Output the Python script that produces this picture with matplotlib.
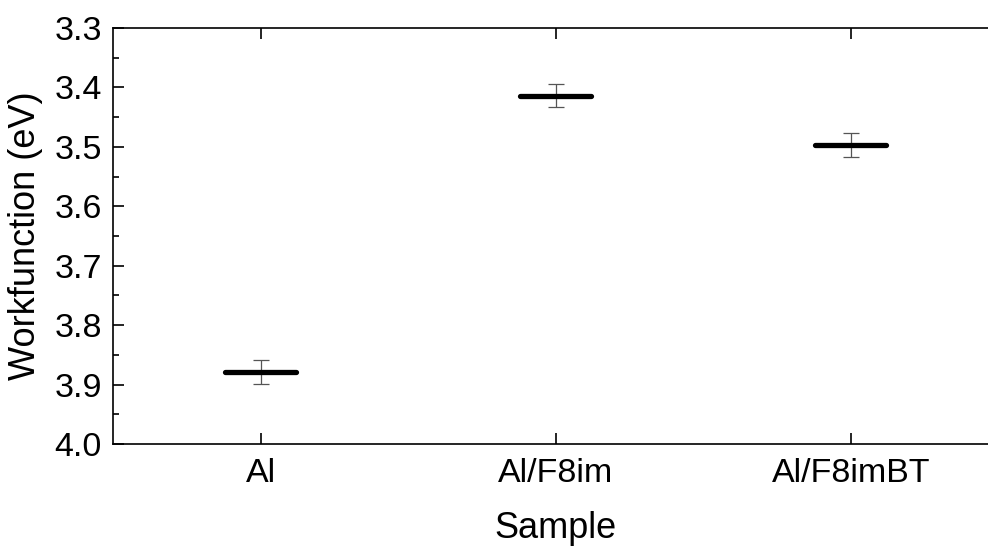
import matplotlib
matplotlib.use("Agg")
import matplotlib.pyplot as plt
import numpy as np

plt.rcParams["font.family"] = ["Liberation Sans", "DejaVu Sans"]

samples = ["Al", "Al/F8im", "Al/F8imBT"]
workfunction = [3.879, 3.414, 3.497]
errors = [0.020, 0.019, 0.020]

x = np.arange(1, len(samples) + 1)

fig = plt.figure(figsize=(9.88, 5.46), dpi=100)
ax = fig.add_axes([113 / 988, 1 - 444 / 546, 885.5 / 988, 416 / 546])

ax.errorbar(x, workfunction, yerr=errors, fmt="none", ecolor="#555555",
            elinewidth=0.9, capsize=5.5, capthick=0.9, zorder=2)
ax.hlines(workfunction, x - 0.12, x + 0.12, colors="black", linewidth=3.8,
          capstyle="round", zorder=3)

ax.set_xlim(0.5, 3.5)
ax.set_ylim(4.0, 3.3)
ax.set_xticks(x)
ax.set_xticklabels(samples)
ax.set_yticks(np.arange(3.3, 4.01, 0.1))
ax.set_yticks(np.arange(3.35, 4.0, 0.1), minor=True)
ax.yaxis.set_major_formatter(matplotlib.ticker.FormatStrFormatter("%.1f"))

ax.tick_params(axis="both", which="major", direction="in", length=8, width=1.2,
               labelsize=24.5, top=True, right=True)
ax.tick_params(axis="y", which="minor", direction="in", length=4, width=1.2, right=True)
ax.tick_params(axis="x", which="major", pad=10)
ax.tick_params(axis="y", which="major", pad=8)
for s in ax.spines.values():
    s.set_linewidth(1.2)

ax.set_xlabel("Sample", fontsize=26, labelpad=16)
ax.set_ylabel("Workfunction (eV)", fontsize=26, labelpad=8)

fig.savefig("out.png", dpi=100)
